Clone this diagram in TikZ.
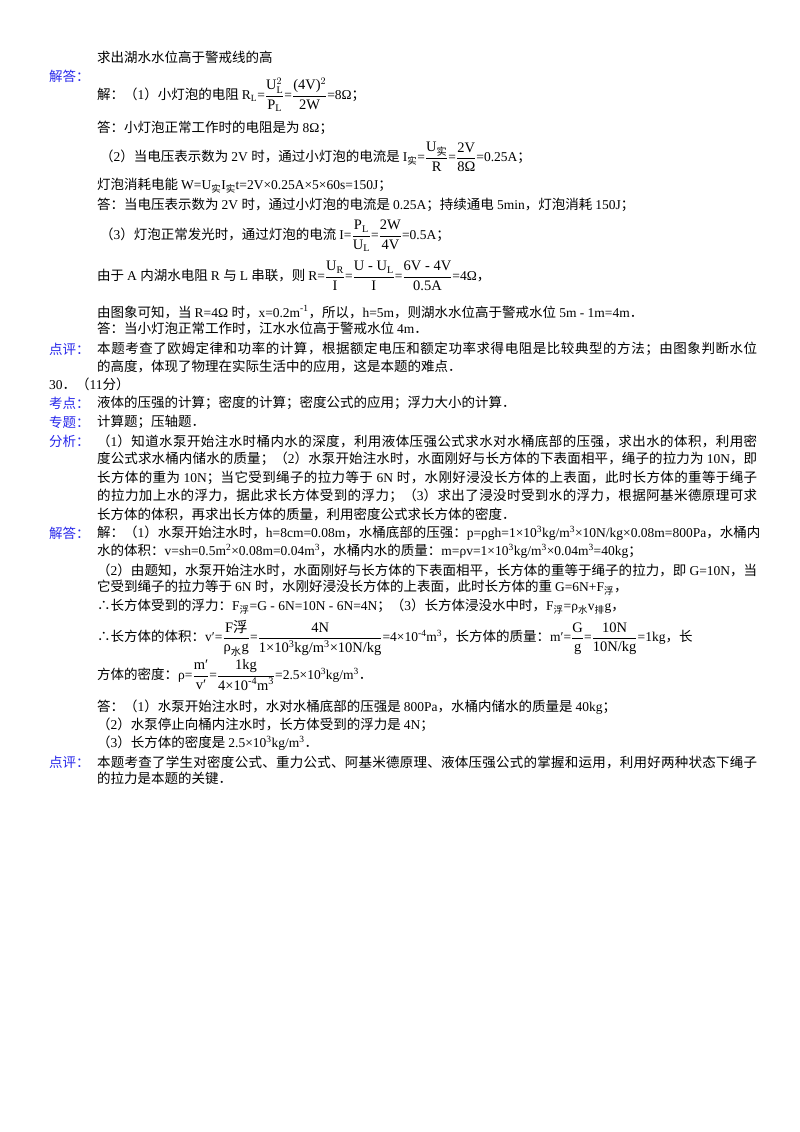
\documentclass[tikz,border=0pt]{standalone}
\usepackage{amsmath}
\usepackage{fontspec}
\setmainfont{Liberation Serif}
\newfontfamily\cjk{Noto Sans CJK SC}
\newXeTeXintercharclass\cjkclass
\makeatletter
\count@="4E00 \loop\XeTeXcharclass\count@=\cjkclass\ifnum\count@<"9FFF \advance\count@ 1 \repeat
\count@="FF00 \loop\XeTeXcharclass\count@=\cjkclass\ifnum\count@<"FFEF \advance\count@ 1 \repeat
\count@="3000 \loop\XeTeXcharclass\count@=\cjkclass\ifnum\count@<"303F \advance\count@ 1 \repeat
\XeTeXcharclass"2234=\cjkclass
\makeatother
\XeTeXinterchartoks 0 \cjkclass = {\cjk}
\XeTeXinterchartoks 4095 \cjkclass = {\cjk}
\XeTeXinterchartoks \cjkclass 0 = {\rmfamily}
\XeTeXinterchartoks 4095 0 = {\rmfamily}
\XeTeXinterchartoks \cjkclass \cjkclass = {\hskip0pt plus 1pt}
\XeTeXinterchartokenstate=1
\newcommand\fr[2]{\ensuremath{\genfrac{}{}{0.6pt}{0}{\hbox{\fontsize{14.5}{16}\selectfont#1}}{\hbox{\fontsize{14.5}{16}\selectfont#2}}}}
\newcommand\sbb[1]{\textsubscript{#1}}
\newcommand\spp[1]{\textsuperscript{#1}}
\newcommand\fl[1]{\hbox to 660pt{#1}}
\definecolor{lab}{RGB}{40,40,235}
\tikzset{t/.style={anchor=west,inner sep=0pt,font=\fontsize{13.5}{16}\selectfont},
 l/.style={t,text=lab}}
\begin{document}
\begin{tikzpicture}[x=1pt,y=-1pt]
\useasboundingbox[fill=white] (0,0) rectangle (800,1132);
\node[t] (a1) at (97,57) {求出湖水水位高于警戒线的高};
\node[l] (b1) at (49,76) {解答：};
\node[t] (a2) at (97,95) {解：（1）小灯泡的电阻 R\sbb{L}=\fr{U$_\mathrm{L}^2$}{P$_\mathrm{L}$}=\fr{(4V)$^2$}{2W}=8Ω；};
\node[t] (a3) at (97,128) {答：小灯泡正常工作时的电阻是为 8Ω；};
\node[t] (a4) at (100,157) {（2）当电压表示数为 2V 时，通过小灯泡的电流是 I\sbb{实}=\fr{U\sbb{实}}{R}=\fr{2V}{8Ω}=0.25A；};
\node[t] (a5) at (97,186) {灯泡消耗电能 W=U\sbb{实}I\sbb{实}t=2V×0.25A×5×60s=150J；};
\node[t] (a6) at (97,205) {答：当电压表示数为 2V 时，通过小灯泡的电流是 0.25A；持续通电 5min，灯泡消耗 150J；};
\node[t] (a7) at (100,236) {（3）灯泡正常发光时，通过灯泡的电流 I=\fr{P$_\mathrm{L}$}{U$_\mathrm{L}$}=\fr{2W}{4V}=0.5A；};
\node[t] (a8) at (97,276) {由于 A 内湖水电阻 R 与 L 串联，则 R=\fr{U$_\mathrm{R}$}{I}=\fr{U - U$_\mathrm{L}$}{I}=\fr{6V - 4V}{0.5A}=4Ω，};
\node[t] (a9) at (97,312) {由图象可知，当 R=4Ω 时，x=0.2m\spp{-1}，所以，h=5m，则湖水水位高于警戒水位 5m - 1m=4m．};
\node[t] (a10) at (97,329) {答：当小灯泡正常工作时，江水水位高于警戒水位 4m．};
\node[l] (b2) at (49,349) {点评：};
\node[t] (c1) at (97,349) {\fl{本题考查了欧姆定律和功率的计算，根据额定电压和额定功率求得电阻是比较典型的方法；由图象判断水位}};
\node[t] (c2) at (97,366) {的高度，体现了物理在实际生活中的应用，这是本题的难点．};
\node[t] (b3) at (49,384) {30．（11分）};
\node[l] (b4) at (49,403) {考点：};
\node[t] (d1) at (97,403) {液体的压强的计算；密度的计算；密度公式的应用；浮力大小的计算．};
\node[l] (b5) at (49,422) {专题：};
\node[t] (d2) at (97,422) {计算题；压轴题．};
\node[l] (b6) at (49,441) {分析：};
\node[t] (e1) at (97,441) {\fl{（1）知道水泵开始注水时桶内水的深度，利用液体压强公式求水对水桶底部的压强，求出水的体积，利用密}};
\node[t] (e2) at (97,459) {\fl{度公式求水桶内储水的质量；（2）水泵开始注水时，水面刚好与长方体的下表面相平，绳子的拉力为 10N，即}};
\node[t] (e3) at (97,478) {\fl{长方体的重为 10N；当它受到绳子的拉力等于 6N 时，水刚好浸没长方体的上表面，此时长方体的重等于绳子}};
\node[t] (e4) at (97,496) {\fl{的拉力加上水的浮力，据此求长方体受到的浮力；（3）求出了浸没时受到水的浮力，根据阿基米德原理可求}};
\node[t] (e5) at (97,514) {长方体的体积，再求出长方体的质量，利用密度公式求长方体的密度．};
\node[l] (b7) at (49,533) {解答：};
\node[t] (f1) at (97,533) {\fl{解：（1）水泵开始注水时，h=8cm=0.08m，水桶底部的压强：p=ρgh=1×10\spp{3}kg/m\spp{3}×10N/kg×0.08m=800Pa，水桶内}};
\node[t] (f2) at (97,551) {水的体积：v=sh=0.5m\spp{2}×0.08m=0.04m\spp{3}，水桶内水的质量：m=ρv=1×10\spp{3}kg/m\spp{3}×0.04m\spp{3}=40kg；};
\node[t] (f3) at (97,570) {\fl{（2）由题知，水泵开始注水时，水面刚好与长方体的下表面相平，长方体的重等于绳子的拉力，即 G=10N，当}};
\node[t] (f4) at (97,588) {它受到绳子的拉力等于 6N 时，水刚好浸没长方体的上表面，此时长方体的重 G=6N+F\sbb{浮}，};
\node[t] (f5) at (97,607) {∴长方体受到的浮力：F\sbb{浮}=G - 6N=10N - 6N=4N；（3）长方体浸没水中时，F\sbb{浮}=ρ\sbb{水}v\sbb{排}g，};
\node[t] (f6) at (97,638) {∴长方体的体积：v′=\fr{F浮}{ρ\sbb{水}g}=\fr{4N}{1×10\spp{3}kg/m\spp{3}×10N/kg}=4×10\spp{-4}m\spp{3}，长方体的质量：m′=\fr{G}{g}=\fr{10N}{10N/kg}=1kg，长};
\node[t] (f7) at (97,675) {方体的密度：ρ=\fr{m′}{v′}=\fr{1kg}{4×10\spp{-4}m\spp{3}}=2.5×10\spp{3}kg/m\spp{3}．};
\node[t] (f8) at (97,707) {答：（1）水泵开始注水时，水对水桶底部的压强是 800Pa，水桶内储水的质量是 40kg；};
\node[t] (f9) at (97,725) {（2）水泵停止向桶内注水时，长方体受到的浮力是 4N；};
\node[t] (f10) at (97,743) {（3）长方体的密度是 2.5×10\spp{3}kg/m\spp{3}．};
\node[l] (b8) at (49,762) {点评：};
\node[t] (g1) at (97,762) {\fl{本题考查了学生对密度公式、重力公式、阿基米德原理、液体压强公式的掌握和运用，利用好两种状态下绳子}};
\node[t] (g2) at (97,778) {的拉力是本题的关键．};
\end{tikzpicture}
\end{document}
